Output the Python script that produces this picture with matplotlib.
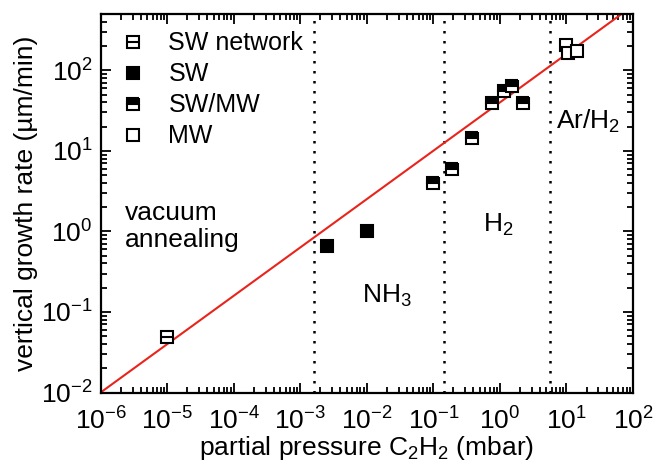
import numpy as np
import matplotlib
matplotlib.use("Agg")
import matplotlib.pyplot as plt
from matplotlib.ticker import LogLocator, NullFormatter

plt.rcParams["font.family"] = ["Liberation Sans", "DejaVu Sans"]
plt.rcParams["mathtext.fontset"] = "custom"
plt.rcParams["mathtext.rm"] = "Liberation Sans"
plt.rcParams["mathtext.default"] = "regular"

# data
sw_net_p = [1.0e-5]
sw_net_r = [0.049]
sw_p = [2.5e-3, 1.0e-2]
sw_r = [0.65, 1.0]
swmw_p = [0.10, 0.19, 0.38, 0.75, 1.13, 1.51, 2.25]
swmw_r = [4.0, 6.0, 14.4, 39, 56, 64, 39]
mw_p = [9.9, 10.5, 14.3]
mw_r = [207, 164, 176]

# fit line r = A * p^k
fit_A = 40.0
fit_k = 0.6
# regime boundaries
bounds = [1.6e-3, 0.145, 5.7]

fig = plt.figure(figsize=(6.53, 4.62), dpi=100)
ax = fig.add_axes([0.1544, 0.1504, 0.815, 0.8193])

px = np.logspace(-6, 2, 200)
ax.plot(px, fit_A * px ** fit_k, color="#e8241c", lw=1.5, zorder=2)

for b in bounds:
    ax.axvline(b, color="black", ls=(0, (1, 3)), lw=1.8, zorder=1)

ms = 8.5
mew = 1.5
h1 = ax.plot(sw_net_p, sw_net_r, "s", ms=ms, mfc="white", mec="black", mew=mew, ls="none", zorder=3)[0]
h1b = ax.plot(sw_net_p, sw_net_r, "_", ms=ms, mec="black", mew=mew, ls="none", zorder=4)[0]
h2 = ax.plot(sw_p, sw_r, "s", ms=ms, mfc="black", mec="black", mew=mew, ls="none", zorder=3)[0]
h3 = ax.plot(swmw_p, swmw_r, "s", ms=ms, fillstyle="top", mfc="black", mfcalt="white",
             mec="black", mew=mew, ls="none", zorder=3)[0]
h4 = ax.plot(mw_p, mw_r, "s", ms=ms, mfc="white", mec="black", mew=mew, ls="none", zorder=3)[0]

ax.set_xscale("log")
ax.set_yscale("log")
ax.set_xlim(1e-6, 1e2)
ax.set_ylim(1e-2, 5e2)

ax.xaxis.set_major_locator(LogLocator(base=10, numticks=20))
ax.xaxis.set_minor_locator(LogLocator(base=10, subs=np.arange(2, 10), numticks=20))
ax.xaxis.set_minor_formatter(NullFormatter())
ax.yaxis.set_minor_formatter(NullFormatter())

ax.tick_params(which="both", direction="in", top=True, right=True, width=1.3, labelsize=19)
ax.tick_params(which="major", length=7)
ax.tick_params(which="minor", length=4)
ax.tick_params(axis="x", pad=11)
ax.tick_params(axis="y", pad=6)
for s in ax.spines.values():
    s.set_linewidth(1.6)

ax.set_xlabel("partial pressure C$_2$H$_2$ (mbar)", fontsize=19, labelpad=-1)
ax.set_ylabel("vertical growth rate (µm/min)", fontsize=19, labelpad=2)

ax.text(2.3e-6, 1.15, "vacuum\nannealing", fontsize=19, va="center", ha="left", linespacing=1.15)
ax.text(8.5e-3, 0.13, "NH$_3$", fontsize=19, va="baseline", ha="left")
ax.text(0.56, 1.0, "H$_2$", fontsize=19, va="baseline", ha="left")
ax.text(7.0, 19, "Ar/H$_2$", fontsize=19, va="baseline", ha="left")

ax.legend([(h1, h1b), h2, h3, h4], ["SW network", "SW", "SW/MW", "MW"],
          loc="upper left", bbox_to_anchor=(0.0, 1.0), frameon=False, fontsize=18,
          handlelength=1.2, handletextpad=0.8, labelspacing=0.28, borderaxespad=0.3)

fig.savefig("out.png", dpi=100)
